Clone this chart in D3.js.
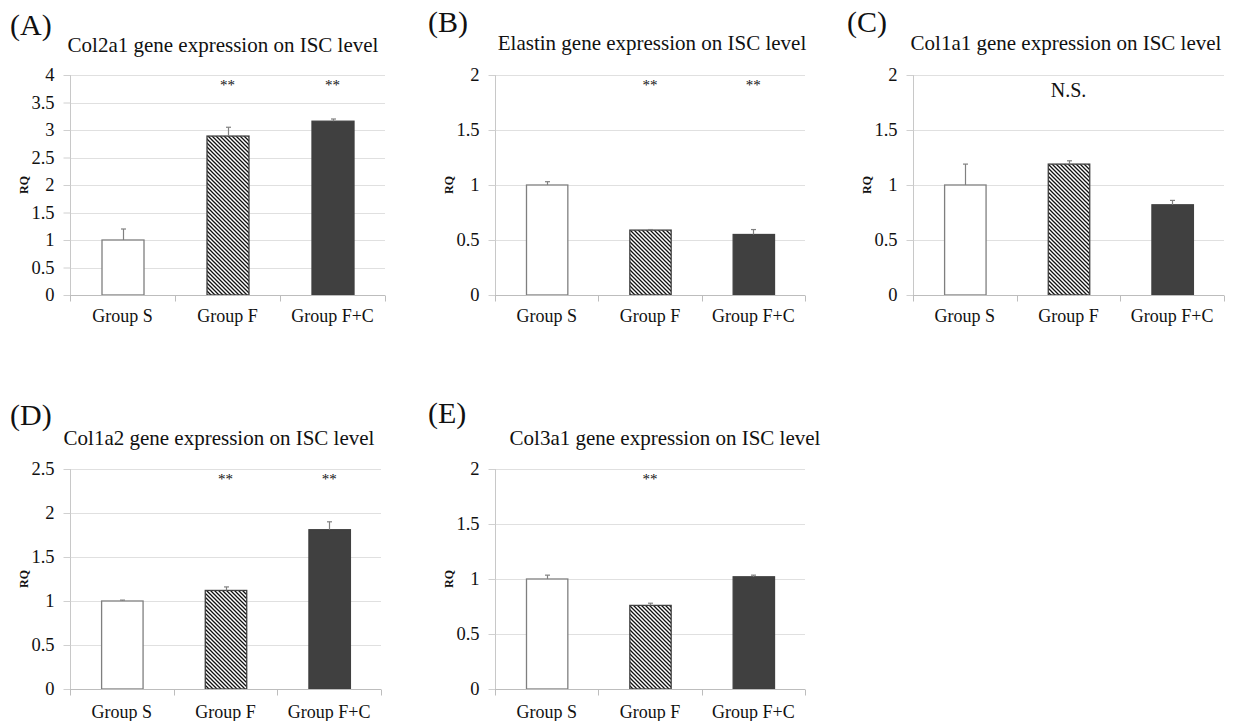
<!DOCTYPE html>
<html>
<head>
<meta charset="utf-8">
<script src="https://cdn.jsdelivr.net/npm/d3@7"></script>
<style>
  html, body { margin: 0; padding: 0; background: #fff; }
  svg { display: block; }
  text { font-family: "Liberation Serif", "Times New Roman", serif; fill: #111; }
</style>
</head>
<body>
<svg id="chart" width="1238" height="721"></svg>
<script>
// ---------------- data ----------------
const groups = ["Group S", "Group F", "Group F+C"];
const panelLetters = ["(A)", "(B)", "(C)", "(D)", "(E)"];
const panelTitles = [
  "Col2a1 gene expression on ISC level",
  "Elastin gene expression on ISC level",
  "Col1a1 gene expression on ISC level",
  "Col1a2 gene expression on ISC level",
  "Col3a1 gene expression on ISC level"
];
const yLabel = "RQ";

const col2a1Mean = [1.00, 2.89, 3.16];
const col2a1Err  = [0.20, 0.16, 0.04];
const elastinMean = [1.00, 0.59, 0.55];
const elastinErr  = [0.03, 0.005, 0.045];
const col1a1Mean = [1.00, 1.19, 0.82];
const col1a1Err  = [0.19, 0.03, 0.04];
const col1a2Mean = [1.00, 1.12, 1.81];
const col1a2Err  = [0.01, 0.04, 0.09];
const col3a1Mean = [1.00, 0.76, 1.02];
const col3a1Err  = [0.035, 0.02, 0.015];

const col2a1Sig = ["", "**", "**"];
const elastinSig = ["", "**", "**"];
const col1a1Sig = ["", "N.S.", ""];
const col1a2Sig = ["", "**", "**"];
const col3a1Sig = ["", "**", ""];

const ticksA = [0, 0.5, 1, 1.5, 2, 2.5, 3, 3.5, 4];
const ticksB = [0, 0.5, 1, 1.5, 2];
const ticksC = [0, 0.5, 1, 1.5, 2];
const ticksD = [0, 0.5, 1, 1.5, 2, 2.5];
const ticksE = [0, 0.5, 1, 1.5, 2];

// ---------------- layout (positions/styles only) ----------------
const layouts = [
  { x0: 70,  x1: 385,  yTop: 75,  yBot: 295, titleX: 223, titleY: 52,  letterX: 10,  letterY: 35,  labelY: 321 },
  { x0: 495, x1: 805,  yTop: 75,  yBot: 295, titleX: 652, titleY: 50,  letterX: 428, letterY: 32,  labelY: 321 },
  { x0: 913, x1: 1224, yTop: 75,  yBot: 295, titleX: 1066, titleY: 50, letterX: 847, letterY: 32,  labelY: 321 },
  { x0: 70,  x1: 381,  yTop: 469, yBot: 689, titleX: 219, titleY: 445, letterX: 10,  letterY: 425, labelY: 717 },
  { x0: 495, x1: 805,  yTop: 469, yBot: 689, titleX: 665, titleY: 445, letterX: 428, letterY: 423, labelY: 717 }
];

const panels = [
  { mean: col2a1Mean, err: col2a1Err, sig: col2a1Sig, ticks: ticksA },
  { mean: elastinMean, err: elastinErr, sig: elastinSig, ticks: ticksB },
  { mean: col1a1Mean, err: col1a1Err, sig: col1a1Sig, ticks: ticksC },
  { mean: col1a2Mean, err: col1a2Err, sig: col1a2Sig, ticks: ticksD },
  { mean: col3a1Mean, err: col3a1Err, sig: col3a1Sig, ticks: ticksE }
];

const fills = ["#ffffff", "url(#hatch)", "#404040"];
const strokes = ["#7f7f7f", "#404040", "#404040"];

const svg = d3.select("#chart");

// hatch pattern
const defs = svg.append("defs");
const pat = defs.append("pattern")
  .attr("id", "hatch")
  .attr("patternUnits", "userSpaceOnUse")
  .attr("width", 4).attr("height", 4);
pat.append("rect").attr("width", 4).attr("height", 4).attr("fill", "#fff");
pat.append("path")
  .attr("d", "M-1,-1 L5,5 M-1,3 L1,5 M3,-1 L5,1")
  .attr("stroke", "#111").attr("stroke-width", 1.3).attr("shape-rendering", "auto");

panels.forEach((p, pi) => {
  const L = layouts[pi];
  const g = svg.append("g");
  const data = groups.map((name, i) => ({ name, mean: p.mean[i], err: p.err[i], sig: p.sig[i], i }));

  const x = d3.scaleBand().domain(groups).range([L.x0, L.x1]).paddingInner(0.6).paddingOuter(0.3);
  const y = d3.scaleLinear().domain([0, d3.max(p.ticks)]).range([L.yBot, L.yTop]);

  // gridlines
  g.selectAll("line.grid").data(p.ticks.filter(t => t > 0)).enter().append("line")
    .attr("x1", L.x0).attr("x2", L.x1)
    .attr("y1", d => Math.round(y(d)) + 0.5).attr("y2", d => Math.round(y(d)) + 0.5)
    .attr("stroke", "#e0e0e0").attr("stroke-width", 1);

  // y axis
  const yAxis = d3.axisLeft(y).tickValues(p.ticks).tickSize(7).tickPadding(9).tickFormat(d => String(d));
  const ya = g.append("g").attr("transform", `translate(${Math.round(L.x0) + 0.5},0)`).call(yAxis);
  ya.select(".domain").attr("stroke", "#c8c8c8").attr("d", `M0,${L.yBot}V${L.yTop}`);
  ya.selectAll(".tick line").attr("stroke", "#d0d0d0").attr("x2", -7);
  ya.selectAll(".tick text").attr("font-size", 18.5).attr("fill", "#111")
    .attr("font-family", "'Liberation Serif', 'Times New Roman', serif");

  // bars
  g.selectAll("rect.bar").data(data).enter().append("rect")
    .attr("x", d => x(d.name) + 0.5)
    .attr("y", d => y(d.mean))
    .attr("width", x.bandwidth())
    .attr("height", d => y(0) - y(d.mean))
    .attr("fill", d => fills[d.i])
    .attr("stroke", d => strokes[d.i])
    .attr("stroke-width", 1.3);

  // error bars (upper only)
  const cx = d => Math.round(x(d.name) + x.bandwidth() / 2) + 0.5;
  g.selectAll("line.err").data(data).enter().append("line")
    .attr("x1", cx).attr("x2", cx)
    .attr("y1", d => y(d.mean)).attr("y2", d => y(d.mean + d.err))
    .attr("stroke", "#808080").attr("stroke-width", 1.2);
  g.selectAll("line.cap").data(data).enter().append("line")
    .attr("x1", d => cx(d) - 2.5).attr("x2", d => cx(d) + 2.5)
    .attr("y1", d => y(d.mean + d.err)).attr("y2", d => y(d.mean + d.err))
    .attr("stroke", "#808080").attr("stroke-width", 1.2);

  // x axis
  const xa = g.append("g").attr("transform", `translate(0,${Math.round(L.yBot) + 0.5})`);
  xa.append("line").attr("x1", L.x0).attr("x2", L.x1).attr("y1", 0).attr("y2", 0)
    .attr("stroke", "#bdbdbd").attr("stroke-width", 1);
  const step = x.step();
  const bounds = d3.range(groups.length + 1).map(i => x(groups[0]) - step * x.paddingOuter() + i * step);
  xa.selectAll("line.tk").data(bounds).enter().append("line")
    .attr("x1", d => Math.round(d) + 0.5).attr("x2", d => Math.round(d) + 0.5)
    .attr("y1", 0).attr("y2", 6).attr("stroke", "#bdbdbd");
  xa.selectAll("text").data(groups).enter().append("text")
    .attr("x", d => x(d) + x.bandwidth() / 2)
    .attr("y", L.labelY - L.yBot)
    .attr("text-anchor", "middle").attr("font-size", 18)
    .text(d => d);

  // significance marks
  g.selectAll("text.sig").data(data.filter(d => d.sig)).enter().append("text")
    .attr("x", d => x(d.name) + x.bandwidth() / 2)
    .attr("y", d => d.sig === "N.S." ? L.yTop + 22 : L.yTop + 15)
    .attr("text-anchor", "middle")
    .attr("font-size", d => d.sig === "N.S." ? 20 : 15)
    .text(d => d.sig);

  // y label
  g.append("text")
    .attr("transform", `translate(${L.x0 - 42},${(L.yTop + L.yBot) / 2}) rotate(-90)`)
    .attr("text-anchor", "middle").attr("font-size", 12).attr("font-weight", "bold")
    .text(yLabel);

  // title
  g.append("text").attr("x", L.titleX).attr("y", L.titleY)
    .attr("text-anchor", "middle").attr("font-size", 21).text(panelTitles[pi]);

  // panel letter
  g.append("text").attr("x", L.letterX).attr("y", L.letterY)
    .attr("font-size", 30).text(panelLetters[pi]);
});
</script>
</body>
</html>
